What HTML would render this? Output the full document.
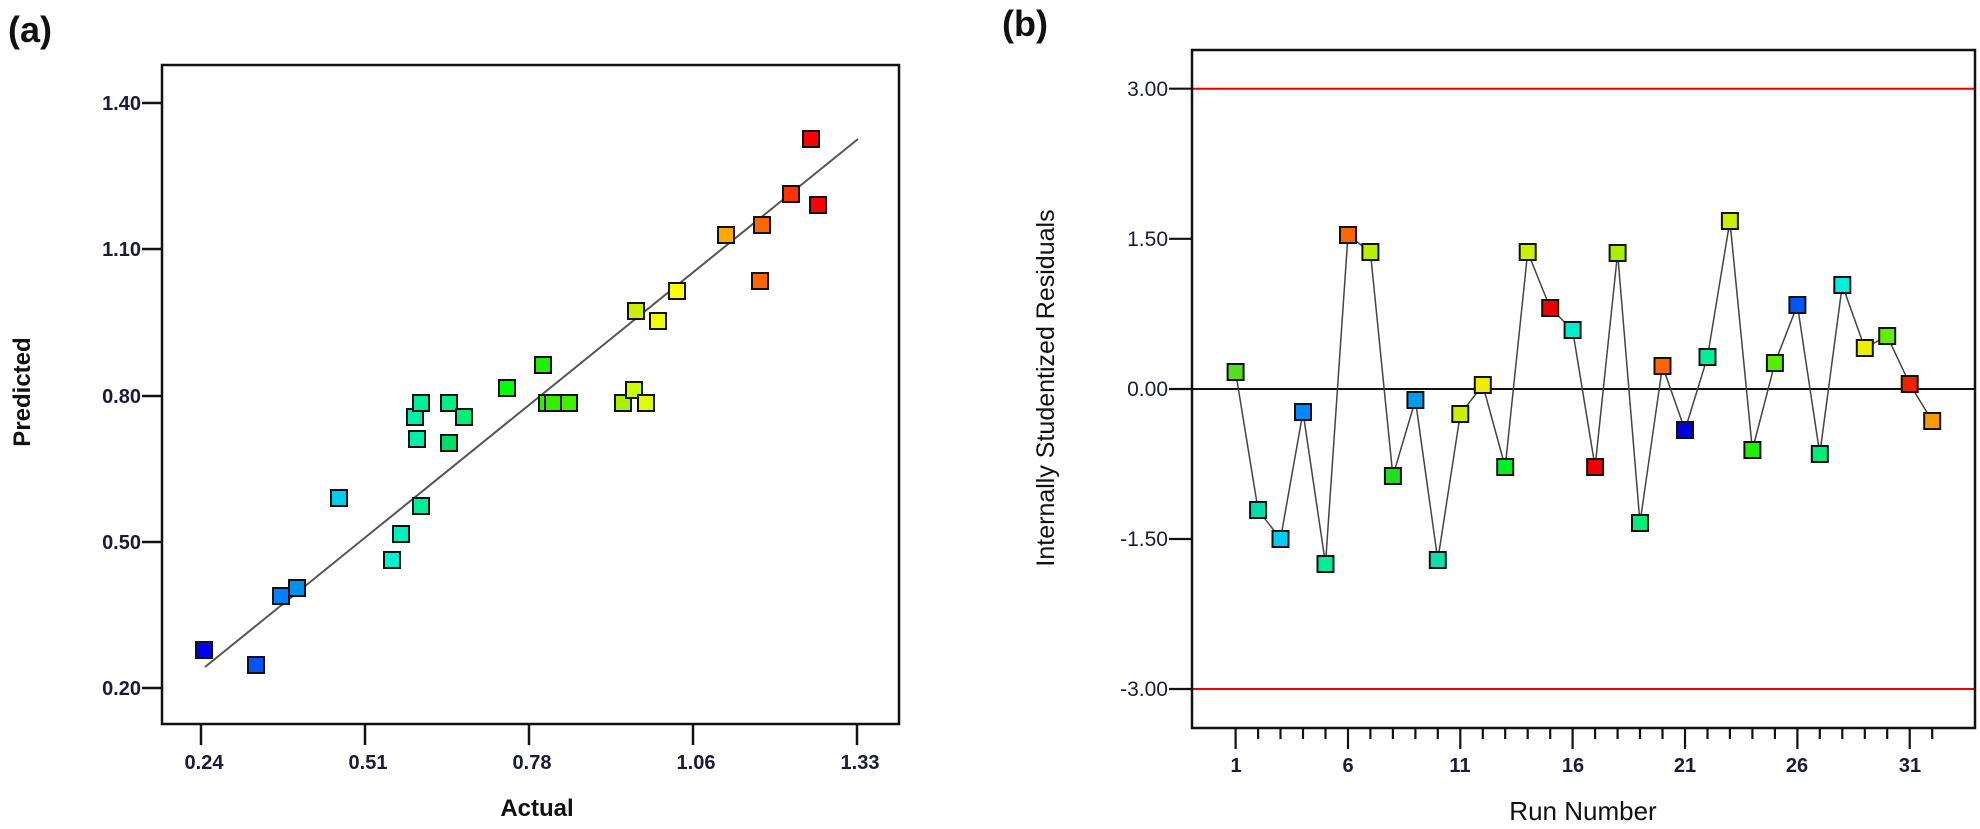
<!DOCTYPE html>
<html><head><meta charset="utf-8"><style>
html,body{margin:0;padding:0;background:#fff;}
svg{display:block;font-family:"Liberation Sans",Arial,sans-serif;}
</style></head><body>
<svg width="1980" height="829" viewBox="0 0 1980 829" xmlns="http://www.w3.org/2000/svg">
<rect width="1980" height="829" fill="#fff"/>
<!-- Panel (a) -->
<text x="8" y="42" font-size="36" font-weight="bold" fill="#111">(a)</text>
<rect x="162" y="65" width="737" height="659" fill="none" stroke="#111" stroke-width="2.5"/>
<g stroke="#111" stroke-width="2.5">
<line x1="142" y1="103" x2="162" y2="103"/><line x1="142" y1="249" x2="162" y2="249"/>
<line x1="142" y1="396" x2="162" y2="396"/><line x1="142" y1="542" x2="162" y2="542"/>
<line x1="142" y1="688" x2="162" y2="688"/>
<line x1="201" y1="724" x2="201" y2="745"/><line x1="365" y1="724" x2="365" y2="745"/>
<line x1="529" y1="724" x2="529" y2="745"/><line x1="693" y1="724" x2="693" y2="745"/>
<line x1="857" y1="724" x2="857" y2="745"/>
</g>
<g font-size="20" font-weight="bold" fill="#1a1a3a" text-anchor="end">
<text x="141" y="110">1.40</text><text x="141" y="256">1.10</text><text x="141" y="403">0.80</text>
<text x="141" y="549">0.50</text><text x="141" y="695">0.20</text>
</g>
<g font-size="20" font-weight="bold" fill="#1a1a3a" text-anchor="middle">
<text x="204" y="769">0.24</text><text x="368" y="769">0.51</text><text x="532" y="769">0.78</text>
<text x="696" y="769">1.06</text><text x="860" y="769">1.33</text>
</g>
<text x="537" y="816" font-size="24" font-weight="bold" text-anchor="middle" fill="#111">Actual</text>
<text transform="translate(30,392) rotate(-90)" font-size="24" font-weight="bold" text-anchor="middle" fill="#111">Predicted</text>
<line x1="205" y1="667" x2="858" y2="139" stroke="#555" stroke-width="2"/>
<g stroke="#111" stroke-width="2">
<rect x="196" y="642" width="16" height="16" fill="#0000ee"/>
<rect x="248" y="657" width="16" height="16" fill="#0055ff"/>
<rect x="273" y="588" width="16" height="16" fill="#0080ff"/>
<rect x="289" y="580" width="16" height="16" fill="#0090ee"/>
<rect x="331" y="490" width="16" height="16" fill="#00ccee"/>
<rect x="384" y="552" width="16" height="16" fill="#00f0cc"/>
<rect x="393" y="526" width="16" height="16" fill="#00eebb"/>
<rect x="413" y="498" width="16" height="16" fill="#00ee99"/>
<rect x="409" y="431" width="16" height="16" fill="#00eeaa"/>
<rect x="407" y="409" width="16" height="16" fill="#00eeaa"/>
<rect x="413" y="395" width="16" height="16" fill="#00ee99"/>
<rect x="441" y="395" width="16" height="16" fill="#00ee88"/>
<rect x="456" y="409" width="16" height="16" fill="#00ee77"/>
<rect x="441" y="435" width="16" height="16" fill="#00dd66"/>
<rect x="499" y="380" width="16" height="16" fill="#00ff00"/>
<rect x="535" y="357" width="16" height="16" fill="#22ee00"/>
<rect x="539" y="395" width="16" height="16" fill="#33ee00"/>
<rect x="545" y="395" width="16" height="16" fill="#33ee00"/>
<rect x="561" y="395" width="16" height="16" fill="#44ee00"/>
<rect x="615" y="395" width="16" height="16" fill="#aaee00"/>
<rect x="626" y="382" width="16" height="16" fill="#ccff00"/>
<rect x="638" y="395" width="16" height="16" fill="#ddff00"/>
<rect x="628" y="303" width="16" height="16" fill="#ccee00"/>
<rect x="650" y="313" width="16" height="16" fill="#eeff00"/>
<rect x="669" y="283" width="16" height="16" fill="#ffff00"/>
<rect x="718" y="227" width="16" height="16" fill="#ffaa00"/>
<rect x="754" y="217" width="16" height="16" fill="#ff6600"/>
<rect x="752" y="273" width="16" height="16" fill="#ff6600"/>
<rect x="783" y="186" width="16" height="16" fill="#ff3300"/>
<rect x="803" y="131" width="16" height="16" fill="#ff0000"/>
<rect x="810" y="197" width="16" height="16" fill="#ff0000"/>
</g>
<!-- Panel (b) -->
<text x="1002" y="36" font-size="36" font-weight="bold" fill="#111">(b)</text>
<line x1="1192" y1="88.7" x2="1975" y2="88.7" stroke="#e00" stroke-width="2"/>
<line x1="1192" y1="689" x2="1975" y2="689" stroke="#e00" stroke-width="2"/>
<line x1="1192" y1="389" x2="1975" y2="389" stroke="#111" stroke-width="2"/>
<rect x="1192" y="50" width="783" height="678" fill="none" stroke="#111" stroke-width="2.5"/>
<g stroke="#111" stroke-width="2.2">
<line x1="1169" y1="88.7" x2="1192" y2="88.7"/><line x1="1169" y1="238.8" x2="1192" y2="238.8"/>
<line x1="1169" y1="389" x2="1192" y2="389"/><line x1="1169" y1="539" x2="1192" y2="539"/>
<line x1="1169" y1="689" x2="1192" y2="689"/>
</g>
<g font-size="21" fill="#1a1a3a" text-anchor="end">
<text x="1168" y="96">3.00</text><text x="1168" y="246">1.50</text><text x="1168" y="396">0.00</text>
<text x="1168" y="546">-1.50</text><text x="1168" y="696">-3.00</text>
</g>
<g stroke="#111" stroke-width="2.2">
<line x1="1235.6" y1="728" x2="1235.6" y2="749"/><line x1="1258.1" y1="728" x2="1258.1" y2="739"/><line x1="1280.5" y1="728" x2="1280.5" y2="739"/><line x1="1303" y1="728" x2="1303" y2="739"/><line x1="1325.5" y1="728" x2="1325.5" y2="739"/>
<line x1="1348" y1="728" x2="1348" y2="749"/><line x1="1370.4" y1="728" x2="1370.4" y2="739"/><line x1="1392.9" y1="728" x2="1392.9" y2="739"/><line x1="1415.4" y1="728" x2="1415.4" y2="739"/><line x1="1437.8" y1="728" x2="1437.8" y2="739"/>
<line x1="1460.3" y1="728" x2="1460.3" y2="749"/><line x1="1482.8" y1="728" x2="1482.8" y2="739"/><line x1="1505.2" y1="728" x2="1505.2" y2="739"/><line x1="1527.7" y1="728" x2="1527.7" y2="739"/><line x1="1550.2" y1="728" x2="1550.2" y2="739"/>
<line x1="1572.6" y1="728" x2="1572.6" y2="749"/><line x1="1595.1" y1="728" x2="1595.1" y2="739"/><line x1="1617.6" y1="728" x2="1617.6" y2="739"/><line x1="1640" y1="728" x2="1640" y2="739"/><line x1="1662.5" y1="728" x2="1662.5" y2="739"/>
<line x1="1685" y1="728" x2="1685" y2="749"/><line x1="1707.5" y1="728" x2="1707.5" y2="739"/><line x1="1729.9" y1="728" x2="1729.9" y2="739"/><line x1="1752.4" y1="728" x2="1752.4" y2="739"/><line x1="1774.9" y1="728" x2="1774.9" y2="739"/>
<line x1="1797.4" y1="728" x2="1797.4" y2="749"/><line x1="1819.8" y1="728" x2="1819.8" y2="739"/><line x1="1842.3" y1="728" x2="1842.3" y2="739"/><line x1="1864.8" y1="728" x2="1864.8" y2="739"/><line x1="1887.2" y1="728" x2="1887.2" y2="739"/>
<line x1="1909.7" y1="728" x2="1909.7" y2="749"/><line x1="1932.2" y1="728" x2="1932.2" y2="739"/>
</g>
<g font-size="20" font-weight="bold" fill="#1a1a3a" text-anchor="middle">
<text x="1236" y="772">1</text><text x="1348" y="772">6</text><text x="1460" y="772">11</text>
<text x="1573" y="772">16</text><text x="1685" y="772">21</text><text x="1797" y="772">26</text><text x="1910" y="772">31</text>
</g>
<text x="1583" y="820" font-size="26" text-anchor="middle" fill="#111">Run Number</text>
<text transform="translate(1054,388) rotate(-90)" font-size="25" text-anchor="middle" fill="#111">Internally Studentized Residuals</text>
<polyline fill="none" stroke="#444" stroke-width="1.5" points="1235.6,372 1258.1,510 1280.5,539 1303,412 1325.5,564 1348,235 1370.4,252 1392.9,476 1415.4,400 1437.8,560 1460.3,414 1482.8,385 1505.2,467 1527.7,252 1550.2,308 1572.6,330 1595.1,467 1617.6,253 1640,523 1662.5,366 1685,430 1707.5,357 1729.9,221 1752.4,450 1774.9,363 1797.4,305 1819.8,454 1842.3,285 1864.8,348 1887.2,336 1909.7,384 1932.2,421"/>
<g stroke="#111" stroke-width="2">
<rect x="1227.6" y="364" width="16" height="16" fill="#55dd22"/>
<rect x="1250.1" y="502" width="16" height="16" fill="#00ddaa"/>
<rect x="1272.5" y="531" width="16" height="16" fill="#00ccee"/>
<rect x="1295" y="404" width="16" height="16" fill="#0088ff"/>
<rect x="1317.5" y="556" width="16" height="16" fill="#00ee99"/>
<rect x="1340" y="227" width="16" height="16" fill="#ff6600"/>
<rect x="1362.4" y="244" width="16" height="16" fill="#bbee00"/>
<rect x="1384.9" y="468" width="16" height="16" fill="#22dd22"/>
<rect x="1407.4" y="392" width="16" height="16" fill="#0099ee"/>
<rect x="1429.8" y="552" width="16" height="16" fill="#11ddaa"/>
<rect x="1452.3" y="406" width="16" height="16" fill="#ccee00"/>
<rect x="1474.8" y="377" width="16" height="16" fill="#eeee00"/>
<rect x="1497.2" y="459" width="16" height="16" fill="#00ee22"/>
<rect x="1519.7" y="244" width="16" height="16" fill="#ccee00"/>
<rect x="1542.2" y="300" width="16" height="16" fill="#ee0000"/>
<rect x="1564.6" y="322" width="16" height="16" fill="#00eecc"/>
<rect x="1587.1" y="459" width="16" height="16" fill="#ee0000"/>
<rect x="1609.6" y="245" width="16" height="16" fill="#aaee00"/>
<rect x="1632" y="515" width="16" height="16" fill="#00ee77"/>
<rect x="1654.5" y="358" width="16" height="16" fill="#ff6600"/>
<rect x="1677" y="422" width="16" height="16" fill="#0000dd"/>
<rect x="1699.5" y="349" width="16" height="16" fill="#00ee99"/>
<rect x="1721.9" y="213" width="16" height="16" fill="#ccee00"/>
<rect x="1744.4" y="442" width="16" height="16" fill="#22ee00"/>
<rect x="1766.9" y="355" width="16" height="16" fill="#55ee00"/>
<rect x="1789.4" y="297" width="16" height="16" fill="#0055ff"/>
<rect x="1811.8" y="446" width="16" height="16" fill="#00ee77"/>
<rect x="1834.3" y="277" width="16" height="16" fill="#00eedd"/>
<rect x="1856.8" y="340" width="16" height="16" fill="#eeee00"/>
<rect x="1879.2" y="328" width="16" height="16" fill="#66ee00"/>
<rect x="1901.7" y="376" width="16" height="16" fill="#ee2200"/>
<rect x="1924.2" y="413" width="16" height="16" fill="#ff9900"/>
</g>
</svg>
</body></html>
